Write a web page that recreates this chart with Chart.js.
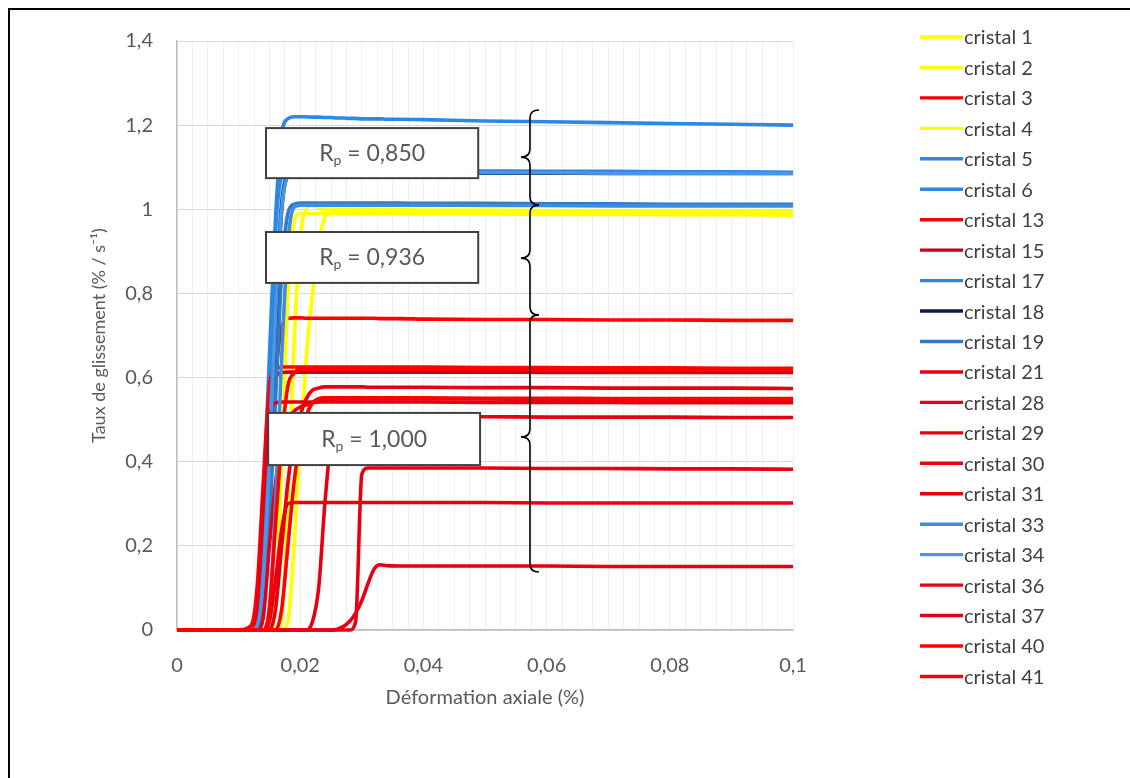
<!DOCTYPE html>
<html><head><meta charset="utf-8">
<script src="https://cdn.jsdelivr.net/npm/chart.js@4.4.1/dist/chart.umd.min.js"></script>
<style>
html,body{margin:0;padding:0;background:#fff;}
#wrap{position:relative;width:1130px;height:778px;overflow:hidden;}
#frame{position:absolute;left:8px;top:8px;width:1130px;height:780px;border-top:2px solid #000;border-left:2px solid #000;box-sizing:border-box;pointer-events:none;}
canvas{position:absolute;left:0;top:0;}
</style></head>
<body><div id="wrap"><canvas id="c" width="1130" height="778"></canvas><div id="frame"></div></div>
<script>
// Axial strain (%) sampling
const strain = [0, 0.010, 0.012,
  0.013, 0.014, 0.015, 0.016, 0.017, 0.018, 0.019, 0.020, 0.021, 0.022,
  0.023, 0.024, 0.025, 0.026, 0.027, 0.028, 0.029, 0.030, 0.031, 0.032,
  0.033, 0.034, 0.036, 0.040, 0.050, 0.060, 0.070, 0.080, 0.090, 0.100];

const crystalNames = ['cristal 1','cristal 2','cristal 3','cristal 4','cristal 5','cristal 6','cristal 13','cristal 15','cristal 17','cristal 18','cristal 19','cristal 21','cristal 28','cristal 29','cristal 30','cristal 31','cristal 33','cristal 34','cristal 36','cristal 37','cristal 40','cristal 41'];

const cristal1 = [0,0,0, 0,0,0,0,0.03,0.30,0.68,0.93,1.00,1.01, 1.003,1.0,1.0,1.0,1.0,1.0,1.0,1.0,1.0,1.0, 0.999,0.999,0.999,0.998,0.998,0.997,0.997,0.996,0.996,0.995];
const cristal2 = [0,0,0, 0,0,0,0,0,0.02,0.20,0.45,0.65,0.80, 0.92,0.98,0.99,0.992,0.992,0.992,0.992,0.992,0.992,0.992, 0.992,0.992,0.992,0.991,0.991,0.99,0.99,0.99,0.99,0.99];
const cristal3 = [0,0,0, 0.02,0.15,0.38,0.60,0.72,0.74,0.742,0.742,0.741,0.741, 0.741,0.741,0.741,0.741,0.741,0.741,0.741,0.741,0.741,0.741, 0.74,0.74,0.74,0.739,0.738,0.738,0.737,0.737,0.736,0.736];
const cristal4 = [0,0,0, 0,0,0,0.05,0.40,0.80,0.97,0.99,0.99,0.99, 0.99,0.99,0.99,0.99,0.99,0.99,0.99,0.99,0.99,0.99, 0.99,0.99,0.99,0.989,0.989,0.988,0.988,0.987,0.987,0.986];
const cristal5 = [0,0,0, 0.05,0.30,0.65,0.98,1.18,1.215,1.22,1.22,1.22,1.219, 1.219,1.218,1.218,1.217,1.217,1.216,1.216,1.215,1.215,1.215, 1.215,1.214,1.214,1.213,1.21,1.208,1.206,1.204,1.202,1.2];
const cristal6 = [0,0,0, 0.04,0.25,0.60,0.95,1.08,1.095,1.095,1.094,1.094,1.093, 1.093,1.093,1.093,1.093,1.093,1.093,1.093,1.093,1.093,1.093, 1.093,1.093,1.092,1.092,1.091,1.09,1.09,1.089,1.089,1.088];
const cristal13 = [0,0,0.01, 0.10,0.35,0.58,0.62,0.625,0.625,0.625,0.625,0.625,0.625, 0.625,0.625,0.625,0.625,0.625,0.625,0.625,0.625,0.625,0.625, 0.625,0.625,0.625,0.625,0.624,0.624,0.623,0.623,0.622,0.622];
const cristal15 = [0,0,0, 0.03,0.20,0.45,0.60,0.612,0.613,0.613,0.613,0.613,0.613, 0.613,0.613,0.613,0.613,0.613,0.613,0.613,0.613,0.613,0.613, 0.613,0.613,0.613,0.613,0.613,0.612,0.612,0.612,0.612,0.612];
const cristal17 = [0,0,0, 0.02,0.15,0.45,0.80,1.02,1.085,1.09,1.09,1.09,1.09, 1.09,1.09,1.09,1.09,1.09,1.09,1.09,1.09,1.09,1.09, 1.09,1.09,1.09,1.09,1.089,1.089,1.088,1.088,1.087,1.087];
const cristal18 = [0,0,0, 0,0.05,0.30,0.70,1.00,1.08,1.087,1.087,1.087,1.087, 1.087,1.087,1.087,1.087,1.087,1.087,1.087,1.087,1.087,1.087, 1.087,1.087,1.087,1.087,1.086,1.086,1.085,1.085,1.085,1.085];
const cristal19 = [0,0,0, 0,0.04,0.25,0.55,0.85,0.99,1.012,1.015,1.015,1.015, 1.015,1.015,1.015,1.015,1.015,1.015,1.015,1.015,1.015,1.015, 1.015,1.015,1.015,1.014,1.014,1.013,1.013,1.012,1.012,1.012];
const cristal21 = [0,0,0, 0,0,0,0.05,0.20,0.35,0.45,0.51,0.55,0.57, 0.575,0.578,0.578,0.578,0.578,0.578,0.578,0.578,0.577,0.577, 0.577,0.577,0.577,0.577,0.576,0.576,0.575,0.575,0.575,0.574];
const cristal28 = [0,0,0, 0,0.03,0.20,0.35,0.45,0.50,0.52,0.53,0.535,0.54, 0.543,0.546,0.548,0.549,0.549,0.549,0.549,0.549,0.549,0.549, 0.549,0.549,0.549,0.549,0.549,0.548,0.548,0.548,0.548,0.548];
const cristal29 = [0,0,0, 0.05,0.30,0.50,0.54,0.542,0.542,0.542,0.542,0.542,0.542, 0.542,0.542,0.542,0.542,0.542,0.542,0.542,0.542,0.542,0.542, 0.542,0.542,0.542,0.542,0.541,0.541,0.541,0.54,0.54,0.54];
const cristal30 = [0,0,0, 0,0,0,0,0,0,0,0,0,0.02, 0.10,0.30,0.45,0.50,0.506,0.507,0.507,0.507,0.507,0.507, 0.507,0.507,0.507,0.507,0.507,0.506,0.506,0.506,0.505,0.505];
const cristal31 = [0,0,0, 0,0,0,0,0,0,0,0,0,0, 0,0,0,0,0,0,0.02,0.37,0.385,0.385, 0.385,0.385,0.385,0.385,0.385,0.384,0.384,0.383,0.383,0.382];
const cristal33 = [0,0,0, 0,0,0.05,0.30,0.65,0.92,1.005,1.01,1.01,1.01, 1.01,1.01,1.01,1.01,1.01,1.01,1.01,1.01,1.01,1.01, 1.01,1.01,1.01,1.01,1.009,1.009,1.008,1.008,1.008,1.008];
const cristal34 = [0,0,0, 0.01,0.12,0.40,0.75,1.00,1.08,1.088,1.088,1.088,1.088, 1.088,1.088,1.088,1.088,1.088,1.088,1.088,1.088,1.088,1.088, 1.088,1.088,1.088,1.088,1.087,1.087,1.086,1.086,1.086,1.086];
const cristal36 = [0,0,0, 0,0,0.02,0.12,0.24,0.30,0.303,0.303,0.303,0.303, 0.303,0.303,0.303,0.303,0.303,0.303,0.303,0.303,0.303,0.303, 0.303,0.303,0.303,0.303,0.303,0.302,0.302,0.302,0.302,0.302];
const cristal37 = [0,0,0, 0,0,0,0,0,0,0,0,0,0, 0,0,0,0.002,0.008,0.02,0.04,0.07,0.11,0.145, 0.155,0.153,0.152,0.152,0.152,0.152,0.151,0.151,0.151,0.151];
const cristal40 = [0,0,0, 0,0,0.05,0.25,0.45,0.58,0.61,0.62,0.62,0.62, 0.62,0.62,0.62,0.62,0.62,0.62,0.62,0.62,0.62,0.62, 0.62,0.62,0.62,0.62,0.619,0.619,0.618,0.618,0.617,0.617];
const cristal41 = [0,0,0, 0,0,0,0,0.05,0.20,0.35,0.45,0.51,0.54, 0.55,0.552,0.552,0.552,0.552,0.552,0.552,0.552,0.552,0.552, 0.552,0.552,0.552,0.552,0.551,0.551,0.55,0.55,0.55,0.55];

const seriesValues = [cristal1,cristal2,cristal3,cristal4,cristal5,cristal6,cristal13,cristal15,cristal17,cristal18,cristal19,cristal21,cristal28,cristal29,cristal30,cristal31,cristal33,cristal34,cristal36,cristal37,cristal40,cristal41];
const seriesColors = ['#FFFF00','#FFFF00','#FF0000','#FFFF00','#2A88E6','#2A88E6','#FF0000','#C8001A','#3A7FD5','#0D1A4F','#2F7BC6','#E60012','#E60012','#E60012','#E60012','#E60012','#3C8DE0','#4A96E4','#E60012','#E60012','#FF0000','#FF0000'];

const xTickValues = [0, 0.02, 0.04, 0.06, 0.08, 0.1];
const xTickLabels = ['0', '0,02', '0,04', '0,06', '0,08', '0,1'];
const yTickValues = [0, 0.2, 0.4, 0.6, 0.8, 1, 1.2, 1.4];
const yTickLabels = ['0', '0,2', '0,4', '0,6', '0,8', '1', '1,2', '1,4'];

const rpLabels = ['0,850', '0,936', '1,000'];

// annotation geometry (in data units)
const annot = {
  boxes: [
    {x1: 0.01445, x2: 0.0489, yTop: 1.193, yBot: 1.074},
    {x1: 0.01445, x2: 0.0489, yTop: 0.946, yBot: 0.825},
    {x1: 0.0148, x2: 0.0492, yTop: 0.516, yBot: 0.392}
  ],
  braces: [
    {x: 0.0573, yTop: 1.236, yTip: 1.124, yBot: 1.010},
    {x: 0.0573, yTop: 1.010, yTip: 0.884, yBot: 0.749},
    {x: 0.0573, yTop: 0.749, yTip: 0.459, yBot: 0.138}
  ]
};

const FONT = 'Lato, "Open Sans", sans-serif';

function labelFor(v, vals, labs) {
  for (let i = 0; i < vals.length; i++) if (Math.abs(v - vals[i]) < 1e-9) return labs[i];
  return '';
}

const N = seriesValues.length;
const datasets = seriesValues.map((vals, i) => ({
  label: crystalNames[i],
  data: strain.map((x, j) => ({x: x, y: vals[j]})),
  borderColor: seriesColors[i],
  backgroundColor: seriesColors[i],
  borderWidth: 3.6,
  pointRadius: 0,
  cubicInterpolationMode: 'monotone',
  clip: 8,
  order: N - i
}));

const annotPlugin = {
  id: 'annot',
  afterDatasetsDraw(chart) {
    const {ctx, scales: {x, y}} = chart;
    ctx.save();
    annot.boxes.forEach((b, i) => {
      const l = x.getPixelForValue(b.x1), r = x.getPixelForValue(b.x2);
      const t = y.getPixelForValue(b.yTop), bt = y.getPixelForValue(b.yBot);
      ctx.fillStyle = '#ffffff';
      ctx.fillRect(l, t, r - l, bt - t);
      ctx.strokeStyle = '#404040';
      ctx.lineWidth = 2;
      ctx.strokeRect(l, t, r - l, bt - t);
      const cx = (l + r) / 2, cy = (t + bt) / 2;
      const big = '23px ' + FONT, small = '14px ' + FONT;
      ctx.font = big; const wR = ctx.measureText('R').width;
      ctx.font = small; const wp = ctx.measureText('p').width;
      ctx.font = big; const rest = ' = ' + rpLabels[i]; const wRest = ctx.measureText(rest).width;
      let px = cx - (wR + wp + wRest) / 2;
      const base = cy + 8;
      ctx.fillStyle = '#595959';
      ctx.textBaseline = 'alphabetic';
      ctx.textAlign = 'left';
      ctx.font = big; ctx.fillText('R', px, base); px += wR;
      ctx.font = small; ctx.fillText('p', px, base + 4); px += wp;
      ctx.font = big; ctx.fillText(rest, px, base);
    });
    ctx.strokeStyle = '#000';
    ctx.lineWidth = 1.6;
    annot.braces.forEach(b => {
      const xs = x.getPixelForValue(b.x);
      const yt = y.getPixelForValue(b.yTop), yp = y.getPixelForValue(b.yTip), yb = y.getPixelForValue(b.yBot);
      const w = 9, r = 8;
      ctx.beginPath();
      ctx.moveTo(xs + w, yt);
      ctx.quadraticCurveTo(xs, yt, xs, yt + r);
      ctx.lineTo(xs, yp - r);
      ctx.quadraticCurveTo(xs, yp, xs - w, yp);
      ctx.quadraticCurveTo(xs, yp, xs, yp + r);
      ctx.lineTo(xs, yb - r);
      ctx.quadraticCurveTo(xs, yb, xs + w, yb);
      ctx.stroke();
    });
    ctx.restore();
  }
};

const legendPlugin = {
  id: 'sideLegend',
  afterDraw(chart) {
    const ctx = chart.ctx;
    ctx.save();
    const x0 = 920, y0 = 37, step = 30.45;
    chart.data.datasets.forEach((ds, i) => {
      const yy = y0 + i * step;
      ctx.strokeStyle = ds.borderColor;
      ctx.lineWidth = 3.4;
      ctx.beginPath(); ctx.moveTo(x0, yy); ctx.lineTo(x0 + 43, yy); ctx.stroke();
      ctx.fillStyle = '#404040';
      ctx.font = '20px ' + FONT;
      ctx.textBaseline = 'middle';
      ctx.textAlign = 'left';
      ctx.fillText(ds.label, x0 + 44, yy + 1);
    });
    ctx.restore();
  }
};

new Chart(document.getElementById('c'), {
  type: 'line',
  data: {datasets},
  options: {
    responsive: false,
    animation: false,
    events: [],
    layout: {padding: {left: 88, right: 337, top: 41, bottom: 66}},
    plugins: {legend: {display: false}, tooltip: {enabled: false}},
    scales: {
      x: {
        type: 'linear', min: 0, max: 0.1,
        afterFit: s => { s.height = 82; },
        afterBuildTicks: s => {
          const t = [];
          for (let k = 0; k <= 40; k++) t.push({value: k * 0.0025});
          s.ticks = t;
        },
        grid: {color: '#efefef', drawTicks: false, lineWidth: 1},
        border: {color: '#bfbfbf', width: 1.5},
        ticks: {
          autoSkip: false, maxRotation: 0, padding: 24,
          color: '#595959', font: {family: FONT, size: 20},
          callback: v => labelFor(v, xTickValues, xTickLabels)
        },
        title: {display: true, text: 'Déformation axiale (%)', color: '#595959', font: {family: FONT, size: 20}, padding: {top: 0, bottom: 2}}
      },
      y: {
        min: 0, max: 1.4,
        afterFit: s => { s.width = 89; },
        afterBuildTicks: s => { s.ticks = yTickValues.map(v => ({value: v})); },
        grid: {color: '#d9d9d9', drawTicks: false, lineWidth: 1},
        border: {color: '#bfbfbf', width: 1.5},
        ticks: {
          padding: 24, color: '#595959', font: {family: FONT, size: 20},
          callback: v => labelFor(v, yTickValues, yTickLabels)
        },
        title: {display: true, text: 'Taux de glissement (% / s⁻¹)', color: '#595959', font: {family: FONT, size: 18}, padding: {top: 0, bottom: 0}}
      }
    }
  },
  plugins: [annotPlugin, legendPlugin]
});
</script>
</body></html>
